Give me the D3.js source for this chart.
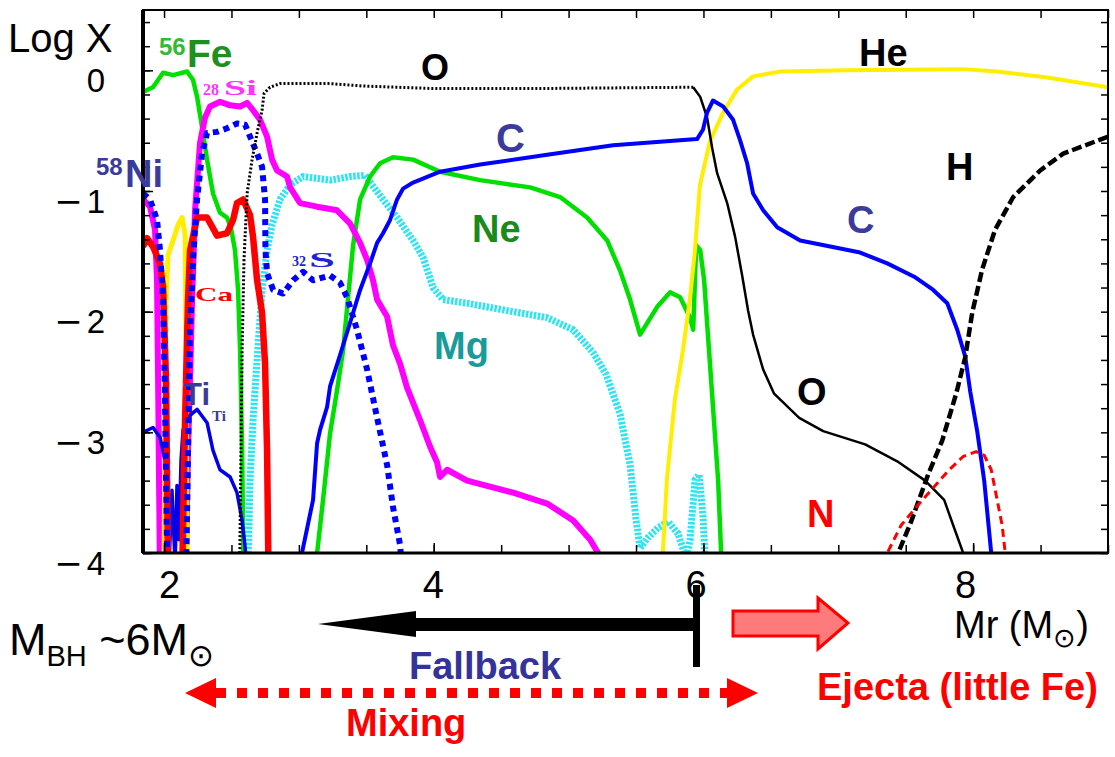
<!DOCTYPE html>
<html><head><meta charset="utf-8">
<script src="https://cdn.jsdelivr.net/npm/d3@7"></script>
<style>body{margin:0;background:#fff} svg{display:block;font-family:"Liberation Sans",Arial,sans-serif}</style>
</head><body>
<svg id="c" width="1115" height="757"></svg>
<script>
// ---- data: [mass coordinate Mr (Msun), log10 mass fraction] ----
const fe56 = [[1.844,-0.18],[1.918,-0.14],[1.993,-0.02],[2.067,-0.04],[2.171,-0.01],[2.215,-0.08],[2.245,-0.22],[2.282,-0.47],[2.319,-0.74],[2.363,-1.02],[2.415,-1.18],[2.467,-1.22],[2.497,-1.31],[2.526,-1.49],[2.549,-1.82],[2.564,-2.32],[2.579,-3.15],[2.59,-4.2]];
const si28 = [[1.844,-1.07],[1.896,-1.13],[1.933,-1.32],[1.948,-1.74],[1.956,-2.57],[1.97,-4.2],[2.16,-4.2],[2.178,-3.15],[2.193,-2.57],[2.208,-1.90],[2.23,-1.16],[2.267,-0.60],[2.304,-0.39],[2.341,-0.30],[2.415,-0.26],[2.49,-0.29],[2.564,-0.30],[2.616,-0.27],[2.66,-0.33],[2.712,-0.41],[2.764,-0.55],[2.801,-0.74],[2.838,-0.83],[2.912,-0.88],[2.935,-0.97],[3.009,-1.10],[3.135,-1.13],[3.283,-1.16],[3.38,-1.27],[3.454,-1.43],[3.506,-1.57],[3.55,-1.74],[3.58,-1.90],[3.654,-2.04],[3.698,-2.28],[3.75,-2.43],[3.802,-2.63],[3.899,-2.90],[3.973,-3.12],[4.025,-3.25],[4.047,-3.37],[4.099,-3.31],[4.247,-3.40],[4.589,-3.50],[4.841,-3.59],[5.034,-3.73],[5.16,-3.89],[5.219,-4.0],[5.25,-4.2]];
const s32 = [[2.163,-4.2],[2.178,-3.15],[2.193,-2.15],[2.215,-1.57],[2.245,-1.07],[2.282,-0.69],[2.319,-0.52],[2.393,-0.51],[2.467,-0.48],[2.541,-0.44],[2.601,-0.45],[2.638,-0.55],[2.69,-0.69],[2.727,-0.80],[2.749,-1.07],[2.752,-1.49],[2.764,-1.68],[2.809,-1.82],[2.883,-1.85],[2.957,-1.74],[3.031,-1.67],[3.105,-1.74],[3.231,-1.70],[3.305,-1.76],[3.357,-1.88],[3.431,-2.15],[3.506,-2.48],[3.58,-2.88],[3.654,-3.27],[3.698,-3.62],[3.75,-3.93],[3.77,-4.2]];
const ni58 = [[1.844,-1.02],[1.896,-1.07],[1.948,-1.24],[1.97,-1.49],[1.993,-1.90],[2.007,-2.73],[2.025,-4.2]];
const ca = [[1.844,-1.46],[1.874,-1.39],[1.918,-1.46],[1.97,-1.60],[1.993,-1.80],[2.015,-2.57],[2.03,-4.2],[2.134,-4.2],[2.156,-2.90],[2.178,-1.90],[2.193,-1.49],[2.245,-1.22],[2.319,-1.22],[2.393,-1.37],[2.467,-1.35],[2.512,-1.24],[2.541,-1.10],[2.586,-1.07],[2.638,-1.20],[2.66,-1.38],[2.69,-1.74],[2.727,-2.01],[2.749,-2.43],[2.764,-3.15],[2.775,-4.2]];
const ti = [[1.844,-3.00],[1.918,-2.96],[1.97,-3.04],[2.007,-3.23],[2.022,-3.42],[2.037,-4.1],[2.059,-3.48],[2.082,-4.1],[2.096,-3.44],[2.111,-3.89],[2.126,-3.23],[2.141,-2.98],[2.163,-2.90],[2.193,-2.86],[2.245,-2.81],[2.319,-2.92],[2.363,-3.15],[2.415,-3.31],[2.49,-3.37],[2.541,-3.50],[2.579,-3.73],[2.601,-3.95],[2.616,-4.2]];
const mg = [[2.62,-4.2],[2.638,-3.39],[2.66,-2.90],[2.69,-2.40],[2.727,-1.82],[2.764,-1.49],[2.801,-1.28],[2.86,-1.07],[2.934,-0.95],[3.031,-0.88],[3.231,-0.91],[3.38,-0.88],[3.491,-0.87],[3.543,-0.95],[3.624,-1.07],[3.728,-1.22],[3.847,-1.41],[3.921,-1.55],[3.995,-1.80],[4.069,-1.90],[4.247,-1.93],[4.589,-2.00],[4.841,-2.05],[5.034,-2.15],[5.182,-2.34],[5.278,-2.52],[5.382,-2.85],[5.456,-3.27],[5.501,-3.73],[5.53,-3.96],[5.59,-3.87],[5.664,-3.79],[5.738,-3.74],[5.812,-3.84],[5.872,-4.05],[5.901,-3.89],[5.938,-3.39],[5.968,-3.35],[5.997,-3.7],[6.019,-4.2]];
const ne = [[3.12,-4.2],[3.135,-4.0],[3.179,-3.56],[3.231,-3.01],[3.283,-2.65],[3.328,-2.32],[3.365,-1.88],[3.402,-1.45],[3.454,-1.07],[3.528,-0.88],[3.602,-0.77],[3.698,-0.72],[3.847,-0.74],[4.047,-0.84],[4.344,-0.91],[4.715,-0.97],[4.937,-1.05],[5.137,-1.22],[5.286,-1.41],[5.382,-1.66],[5.456,-1.90],[5.53,-2.19],[5.657,-1.96],[5.753,-1.84],[5.827,-1.88],[5.901,-2.05],[5.924,-2.15],[5.946,-1.45],[5.976,-1.49],[6.005,-1.74],[6.057,-2.57],[6.109,-3.40],[6.131,-4.0],[6.14,-4.2]];
const c12 = [[3.01,-4.2],[3.023,-4.0],[3.105,-3.56],[3.135,-3.09],[3.157,-2.98],[3.209,-2.79],[3.231,-2.62],[3.305,-2.36],[3.38,-2.09],[3.454,-1.82],[3.528,-1.60],[3.58,-1.43],[3.624,-1.35],[3.676,-1.24],[3.728,-1.07],[3.773,-0.98],[3.847,-0.93],[4.047,-0.84],[4.344,-0.78],[4.841,-0.70],[5.33,-0.62],[5.827,-0.58],[5.953,-0.57],[5.997,-0.49],[6.027,-0.35],[6.071,-0.25],[6.146,-0.30],[6.22,-0.41],[6.272,-0.58],[6.324,-0.77],[6.368,-1.02],[6.443,-1.16],[6.547,-1.30],[6.717,-1.41],[6.94,-1.46],[7.162,-1.51],[7.363,-1.60],[7.563,-1.71],[7.704,-1.82],[7.808,-1.93],[7.882,-2.15],[7.941,-2.37],[7.978,-2.66],[8.03,-2.99],[8.082,-3.40],[8.134,-4.0],[8.14,-4.2]];
const heCore = [[2.0,-4.2],[2.007,-2.73],[2.015,-1.90],[2.03,-1.53],[2.067,-1.41],[2.104,-1.28],[2.134,-1.22],[2.156,-1.36],[2.163,-2.15],[2.171,-4.2]];
const he = [[5.69,-4.2],[5.699,-4.0],[5.729,-3.39],[5.788,-2.73],[5.848,-2.32],[5.899,-1.90],[5.937,-1.49],[5.974,-0.95],[6.048,-0.59],[6.146,-0.35],[6.249,-0.16],[6.368,-0.05],[6.568,-0.01],[7.065,0.0],[7.926,0.01],[8.178,-0.01],[8.549,-0.06],[9.0,-0.14]];
const h1 = [[7.43,-4.2],[7.444,-4.0],[7.54,-3.74],[7.666,-3.35],[7.77,-3.07],[7.874,-2.68],[7.941,-2.38],[7.993,-2.01],[8.067,-1.65],[8.163,-1.32],[8.297,-1.05],[8.497,-0.83],[8.668,-0.69],[9.0,-0.55]];
const n14 = [[7.35,-4.2],[7.363,-4.0],[7.466,-3.77],[7.593,-3.60],[7.719,-3.44],[7.822,-3.31],[7.926,-3.20],[8.022,-3.16],[8.082,-3.19],[8.134,-3.31],[8.178,-3.56],[8.215,-3.77],[8.238,-4.0],[8.245,-4.2]];
const oInner = [[2.56,-4.2],[2.571,-3.15],[2.579,-2.32],[2.593,-1.57],[2.616,-1.02],[2.653,-0.74],[2.69,-0.52],[2.727,-0.33],[2.742,-0.19],[2.786,-0.14],[2.86,-0.11],[3.231,-0.11],[3.476,-0.13],[3.973,-0.15],[4.863,-0.15],[5.924,-0.14]];
const oOuter = [[5.924,-0.14],[5.976,-0.22],[6.027,-0.39],[6.064,-0.64],[6.101,-0.85],[6.176,-1.10],[6.235,-1.38],[6.287,-1.70],[6.331,-1.99],[6.368,-2.19],[6.443,-2.48],[6.524,-2.68],[6.71,-2.88],[6.888,-2.99],[7.199,-3.10],[7.437,-3.24],[7.644,-3.40],[7.785,-3.56],[7.852,-3.77],[7.926,-4.0],[7.94,-4.2]];

const xMajor = [2,4,6,8];
const xMinor = [2,2.5,3,3.5,4,4.5,5,5.5,6,6.5,7,7.5,8,8.5,9];
const yMajor = [0,-1,-2,-3,-4];
const yMinor = d3.range(0,23).map(i => +(-4 + i*0.2).toFixed(1));

// ---- drawing ----
const svg = d3.select('#c');
const P = {l:143, r:1108, t:10, b:553};
const x = d3.scaleLinear().domain([1.844, 9.0]).range([P.l, P.r]);
const y = d3.scaleLinear().domain([-4, 0.5]).range([P.b, P.t]);

svg.append('defs').append('clipPath').attr('id','clip')
  .append('rect').attr('x',P.l).attr('y',P.t).attr('width',P.r-P.l).attr('height',P.b-P.t);

const series = [
  {d: mg,     c:'#2ee4f0', w:7,   dash:'2.5 1.5'},
  {d: ne,     c:'#00e000', w:4.5, dash:null},
  {d: fe56,   c:'#00e000', w:4.5, dash:null},
  {d: si28,   c:'#ff00ff', w:6,   dash:null},
  {d: heCore, c:'#ffee00', w:5,   dash:null},
  {d: ti,     c:'#0000ee', w:3.5, dash:null},
  {d: ca,     c:'#ff0000', w:6.5, dash:null},
  {d: s32,    c:'#0000ff', w:6,   dash:'6 5'},
  {d: ni58,   c:'#0000ff', w:6,   dash:'6 5'},
  {d: he,     c:'#ffee00', w:4,   dash:null},
  {d: oInner, c:'#000000', w:3,   dash:'2 2'},
  {d: oOuter, c:'#000000', w:2.5, dash:null},
  {d: c12,    c:'#0000ff', w:4,   dash:null},
  {d: h1,     c:'#000000', w:4.5, dash:'10 4'},
  {d: n14,    c:'#ff0000', w:3,   dash:'8 5'}
];
const line = d3.line().x(d => x(d[0])).y(d => y(d[1]));
const gl = svg.append('g').attr('clip-path','url(#clip)');
series.forEach(s => gl.append('path').attr('d', line(s.d)).attr('fill','none')
  .attr('stroke', s.c).attr('stroke-width', s.w).attr('stroke-dasharray', s.dash)
  .attr('stroke-linejoin','round'));

// axes (inward ticks)
const FF = '"Liberation Sans",Arial,sans-serif';
function clean(g){ g.select('.domain').remove(); g.attr('font-family', FF); }
svg.append('g').attr('transform',`translate(0,${P.b})`)
  .call(d3.axisBottom(x).tickValues(xMinor).tickSizeInner(-8).tickSizeOuter(0).tickFormat('')).call(clean);
svg.append('g').attr('transform',`translate(0,${P.b})`)
  .call(d3.axisBottom(x).tickValues(xMajor).tickSizeInner(-10).tickSizeOuter(0).tickPadding(18)).call(clean)
  .selectAll('text').attr('font-size', 38).attr('fill','#000').attr('dx', d => d === 2 ? 5 : (d === 4 ? -1 : -8));
svg.append('g').attr('transform',`translate(0,${P.t})`)
  .call(d3.axisTop(x).tickValues(xMinor).tickSizeInner(-8).tickSizeOuter(0).tickFormat('')).call(clean);
svg.append('g').attr('transform',`translate(${P.l},0)`)
  .call(d3.axisLeft(y).tickValues(yMinor).tickSizeInner(-7).tickSizeOuter(0).tickFormat('')).call(clean);
const yl = svg.append('g').attr('transform',`translate(${P.l},0)`)
  .call(d3.axisLeft(y).tickValues(yMajor).tickSizeInner(-10).tickSizeOuter(0).tickPadding(38)
    .tickFormat(d => d === 0 ? '0' : '\u2212' + (-d))).call(clean);
yl.selectAll('text').attr('font-size', 33).attr('fill','#000').attr('dy','0.64em')
  .each(function(d){
    if (d === 0) return;
    const t = d3.select(this); t.text(null);
    t.append('tspan').attr('font-family','"DejaVu Sans",sans-serif').attr('font-size',34).text('\u2212');
    t.append('tspan').attr('dx',4).text(String(-d));
  });
svg.append('g').attr('transform',`translate(${P.r},0)`)
  .call(d3.axisRight(y).tickValues(yMinor).tickSizeInner(-7).tickSizeOuter(0).tickFormat('')).call(clean);
svg.selectAll('.tick line').attr('stroke','#000').attr('stroke-width',1.5);

// frame
svg.append('rect').attr('x',P.l).attr('y',P.t).attr('width',P.r-P.l).attr('height',P.b-P.t)
  .attr('fill','none').attr('stroke','#000').attr('stroke-width',2);
svg.append('line').attr('x1',P.l).attr('x2',P.l).attr('y1',P.t).attr('y2',P.b).attr('stroke','#000').attr('stroke-width',4);
svg.append('line').attr('x1',P.l).attr('x2',P.r).attr('y1',P.b).attr('y2',P.b).attr('stroke','#000').attr('stroke-width',3);

// ---- text labels ----
function txt(t, px, py, size, color, weight, family){
  return svg.append('text').attr('x',px).attr('y',py).attr('font-size',size)
    .attr('fill',color).attr('font-weight',weight||'normal').attr('font-family',family||FF).text(t);
}
const DB = '#3b3b9b';
txt('Log X', 8, 52, 40, '#000');
// 56Fe
txt('56', 159, 55, 24, '#33bb33', 'bold');
txt('Fe', 187, 67, 39, '#1f8f1f', 'bold');
// 28Si
txt('28', 203, 95, 16, '#ff33ff', 'bold', '"Liberation Serif",serif');
txt('Si', 224, 95, 22, '#ff33ff', 'bold', '"Liberation Serif",serif').attr('textLength',33).attr('lengthAdjust','spacingAndGlyphs');
// 58Ni
txt('58', 96, 175, 24, DB, 'bold');
txt('Ni', 125, 187, 38, DB, 'bold');
// Ca
txt('Ca', 195, 301, 19, '#ff0000', 'bold', '"Liberation Serif",serif').attr('textLength',38).attr('lengthAdjust','spacingAndGlyphs');
// 32S
txt('32', 292, 266, 14, '#2020dd', 'bold', '"Liberation Serif",serif');
txt('S', 309, 267, 20, '#2020dd', 'bold', '"Liberation Serif",serif').attr('textLength',26).attr('lengthAdjust','spacingAndGlyphs');
// Ti
txt('Ti', 183, 405, 31, DB, 'bold');
txt('Ti', 212, 421, 15, DB, 'bold', '"Liberation Serif",serif');
// big species labels
txt('O', 421, 80, 36, '#000', 'bold');
txt('C', 496, 152, 40, DB, 'bold');
txt('Ne', 472, 242, 38, '#1a8a1a', 'bold');
txt('Mg', 434, 359, 38, '#1a9a9a', 'bold');
txt('He', 859, 66, 38, '#000', 'bold');
txt('H', 946, 180, 38, '#000', 'bold');
txt('C', 847, 233, 38, DB, 'bold');
txt('O', 797, 405, 38, '#000', 'bold');
txt('N', 807, 527, 38, '#ff0000', 'bold');

// ---- bottom annotations ----
// Mr (Msun)
const mr = svg.append('text').attr('x',954).attr('y',638).attr('font-size',38).attr('fill','#000');
mr.append('tspan').text('Mr (M');
mr.append('tspan').attr('font-size',27).attr('dy',9).text('\u2299');
mr.append('tspan').attr('dy',-9).text(')');
// M_BH ~6 Msun
const mb = svg.append('text').attr('x',9).attr('y',655).attr('font-size',45).attr('fill','#000');
mb.append('tspan').text('M');
mb.append('tspan').attr('font-size',29).attr('dy',11).text('BH');
mb.append('tspan').attr('dy',-11).text(' ~6M');
mb.append('tspan').attr('font-size',31).attr('dy',11).text('\u2299');

// Fallback arrow (black)
svg.append('polygon').attr('points','318,624 416,611 416,618 697,618 697,631 416,631 416,637').attr('fill','#000');
svg.append('rect').attr('x',693).attr('y',585).attr('width',7).attr('height',82).attr('fill','#000');
txt('Fallback', 409, 679, 38, '#333399', 'bold');

// Ejecta arrow (red outline, pink fill)
svg.append('polygon').attr('points','733,611 818,611 818,598 848,623 818,649 818,636 733,636')
  .attr('fill','#ff7b7b').attr('stroke','#ff0000').attr('stroke-width',3).attr('stroke-linejoin','miter');
txt('Ejecta (little Fe)', 817, 700, 38, '#ff0000', 'bold');

// Mixing double dotted arrow
svg.append('line').attr('x1',216).attr('x2',727).attr('y1',693).attr('y2',693)
  .attr('stroke','#ff0000').attr('stroke-width',10).attr('stroke-dasharray','10 11');
svg.append('polygon').attr('points','185,693 216,678 216,708').attr('fill','#ff0000');
svg.append('polygon').attr('points','758,693 727,678 727,708').attr('fill','#ff0000');
txt('Mixing', 346, 736, 38, '#ff0000', 'bold');
</script>
</body></html>
